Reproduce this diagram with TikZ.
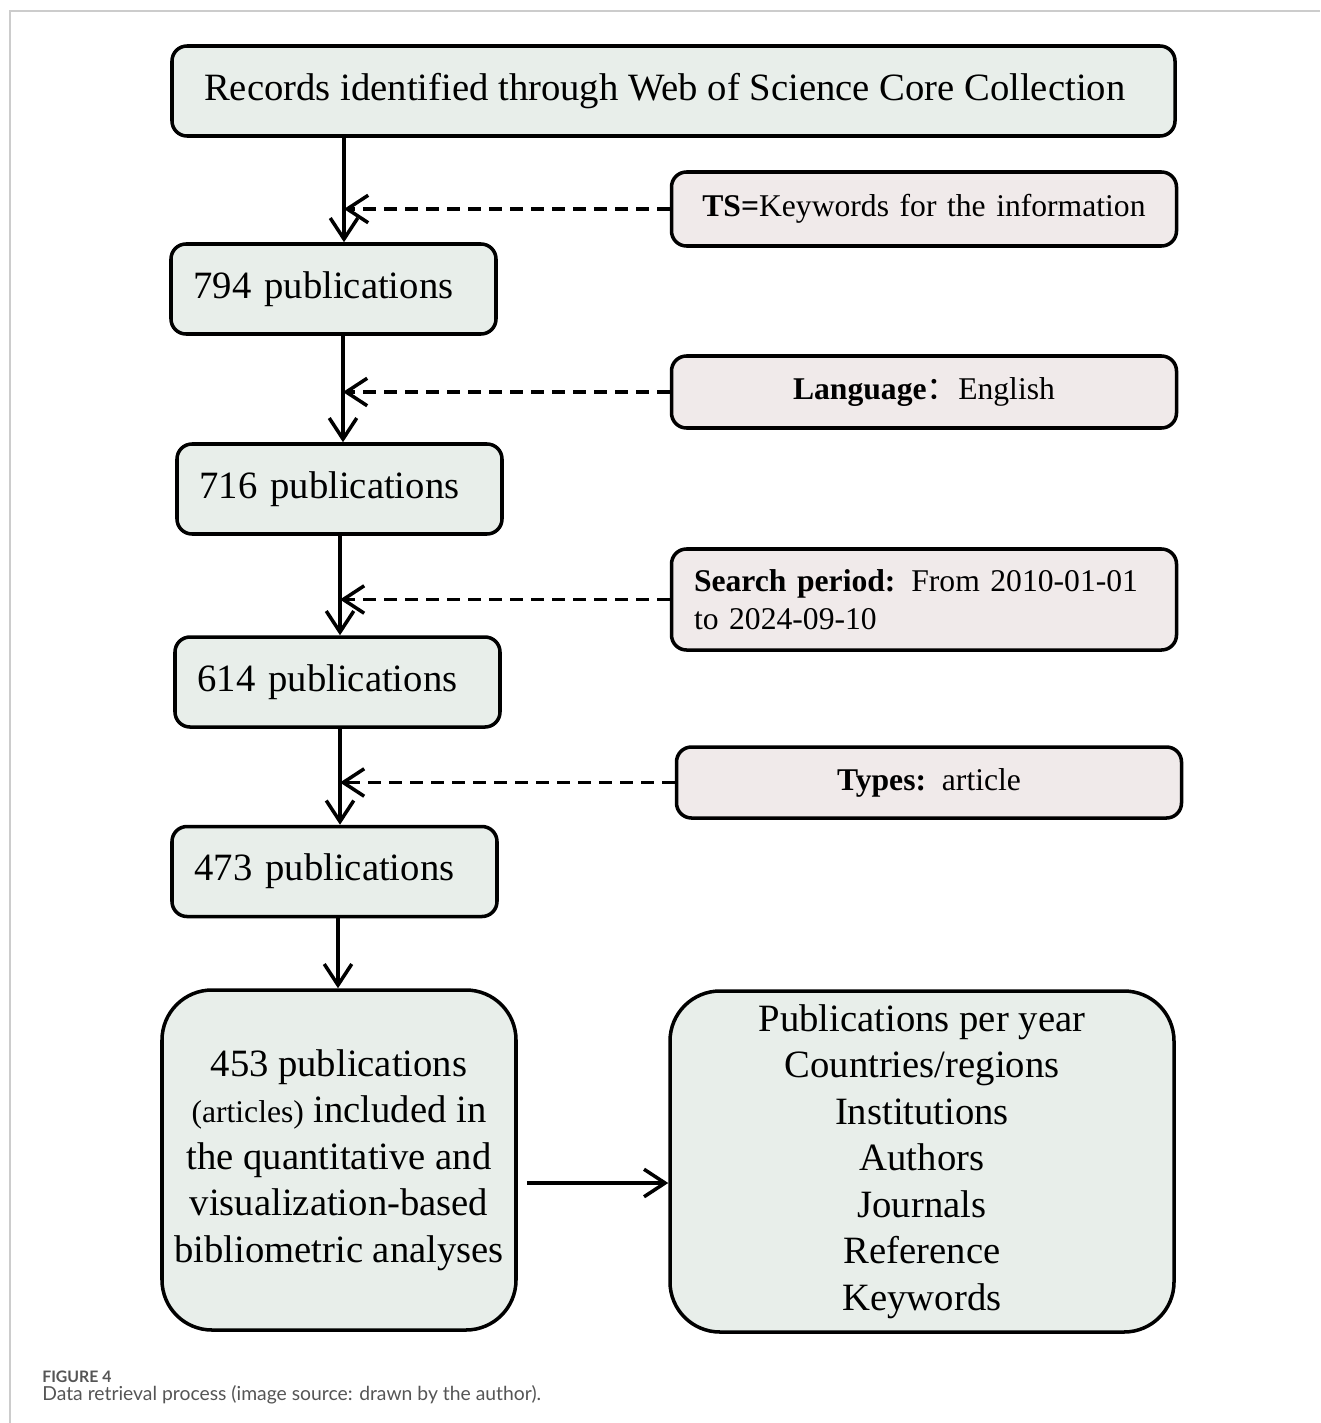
\documentclass[tikz,border=0pt]{standalone}
\usepackage{fontspec}
\setmainfont{Liberation Serif}
\newfontfamily\capfont{Lato}
\newfontfamily\cjk{Noto Sans CJK SC}
\usetikzlibrary{arrows.meta}
\definecolor{boxgreen}{HTML}{E8EEEA}
\definecolor{boxpink}{HTML}{F0EAEA}
\definecolor{framegray}{HTML}{CCCCCC}
\definecolor{capgray}{HTML}{555555}

\begin{document}
\begin{tikzpicture}[
    box/.style={draw, line width=2pt, rounded corners=0.3cm, fill=boxgreen, font=\fontsize{22}{26.5}\selectfont},
    pubbox/.style={box, minimum height=1.8cm, text width=5.6cm, inner xsep=0.45cm, align=left},
    sidebox/.style={box, fill=boxpink, text width=9.2cm, inner xsep=0.45cm, font=\fontsize{18}{21.5}\selectfont},
    bigbox/.style={box, rounded corners=1cm, align=center},
    flow/.style={line width=2pt, -{Straight Barb[length=0.42cm,width=0.55cm]}},
    filter/.style={flow, dash pattern=on 0.26cm off 0.16cm}
  ]
                    \useasboundingbox (0,0) rectangle (26.4,-28.46);
                    \draw[framegray, line width=0.8pt] (26.4,-0.22) -- (0.2,-0.22) -- (0.2,-28.46);

                    % main column
                    \node[box, minimum width=20.06cm, minimum height=1.8cm] (rec) at (13.47,-1.82) {Records identified through Web of Science Core Collection\hspace*{0.35cm}};
                    \node[pubbox] (p794) at (6.67,-5.78) {794 publications};
                    \node[pubbox] (p716) at (6.79,-9.78) {716 publications};
                    \node[pubbox] (p614) at (6.75,-13.64) {614 publications};
                    \node[pubbox] (p473) at (6.69,-17.43) {473 publications};
                    \node[bigbox, minimum width=7.08cm, minimum height=6.8cm] (p453) at (6.78,-23.2) {453 publications\\{\fontsize{18}{20}\selectfont(articles)} included in\\the quantitative and\\visualization-based\\bibliometric analyses};

                    % filters
                    \node[sidebox, minimum height=1.48cm, align=center] (ts) at (18.48,-4.18) {\textbf{TS=}Keywords for the information};
                    \node[sidebox, minimum height=1.44cm, align=center] (lang) at (18.48,-7.84) {\textbf{Language}{\cjk ：}English};
                    \node[sidebox, minimum height=2.02cm, align=left] (period) at (18.48,-11.99) {\textbf{Search period:} From 2010-01-01\\to 2024-09-10};
                    \node[sidebox, minimum height=1.42cm, align=center] (types) at (18.58,-15.65) {\textbf{Types:} article};

                    \node[bigbox, minimum width=10.08cm, minimum height=6.82cm] (res) at (18.44,-23.23) {Publications per year\\Countries/regions\\Institutions\\Authors\\Journals\\Reference\\Keywords};

                    \coordinate (s1) at (6.88,0);
                    \coordinate (s2) at (6.86,0);
                    \coordinate (s3) at (6.8,0);
                    \coordinate (s4) at (6.8,0);
                    \coordinate (s5) at (6.76,0);
                    \coordinate (h) at (0,-23.66);

                    \draw[flow] (rec.south -| s1) -- (p794.north -| s1);
                    \draw[flow] (p794.south -| s2) -- (p716.north -| s2);
                    \draw[flow] (p716.south -| s3) -- (p614.north -| s3);
                    \draw[flow] (p614.south -| s4) -- (p473.north -| s4);
                    \draw[flow] (p473.south -| s5) -- (p453.north -| s5);
                    \draw[filter] (ts.west) -- (ts.west -| s1);
                    \draw[filter] (lang.west) -- (lang.west -| s2);
                    \draw[filter] (period.west) -- (period.west -| s3);
                    \draw[filter] (types.west) -- (types.west -| s4);
                    \draw[flow] (p453.east |- h) ++(0.18,0) -- (res.west |- h);

                    % caption
                    \node[anchor=base west, inner sep=0pt, text=capgray, font=\capfont\bfseries\fontsize{9}{11}\selectfont] (fig) at (0.84,-27.64) {FIGURE 4};
                    \node[anchor=base west, inner sep=0pt, text=capgray, font=\capfont\fontsize{11}{13}\selectfont] (cap) at (0.84,-28.0) {Data retrieval process (image source: drawn by the author).};
                \end{tikzpicture}
\end{document}
